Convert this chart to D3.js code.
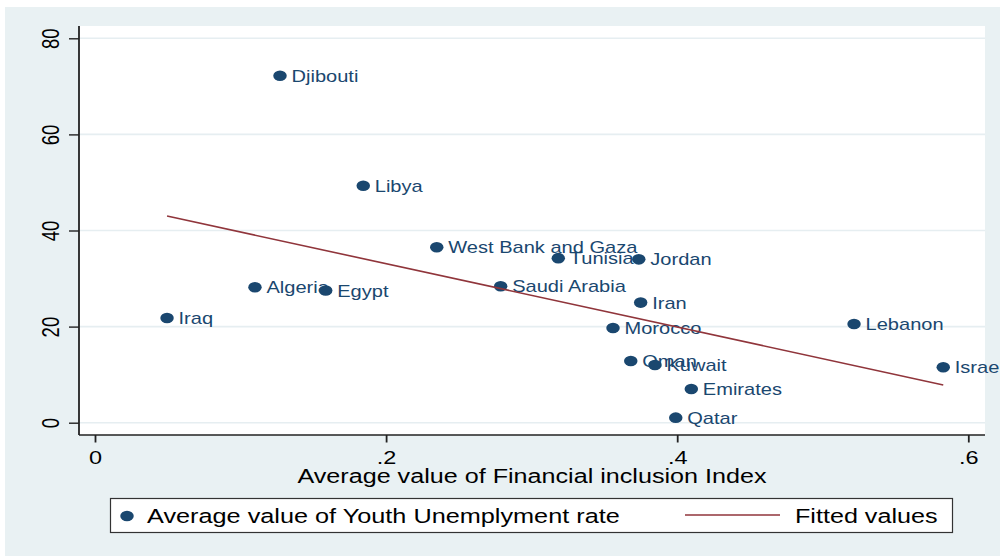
<!DOCTYPE html>
<html>
<head>
<meta charset="utf-8">
<script src="https://cdn.jsdelivr.net/npm/d3@7"></script>
<style>
  html, body { margin: 0; padding: 0; background: #ffffff; }
  svg { display: block; font-family: "Liberation Sans", Arial, sans-serif; }
</style>
</head>
<body>
<svg id="chart" width="1000" height="556"></svg>
<script>
// Countries, ordered by financial inclusion index
const countries = ["Iraq", "Algeria", "Djibouti", "Egypt", "Libya", "West Bank and Gaza",
  "Saudi Arabia", "Tunisia", "Morocco", "Oman", "Jordan", "Iran", "Kuwait", "Qatar",
  "Emirates", "Lebanon", "Israel"];
// Average value of Financial inclusion Index
const inclusion = [0.0495, 0.1099, 0.1271, 0.1585, 0.1843, 0.2348,
  0.2787, 0.3183, 0.3559, 0.3681, 0.3736, 0.3749, 0.3847, 0.3990,
  0.4097, 0.5215, 0.5828];
// Average value of Youth Unemployment rate
const unemployment = [21.8, 28.2, 72.2, 27.5, 49.3, 36.5,
  28.4, 34.25, 19.7, 12.85, 34.0, 25.0, 12.0, 1.05,
  7.0, 20.55, 11.55];

const yTicks = [0, 20, 40, 60, 80];
const xTicks = [0, 0.2, 0.4, 0.6];
const xTickLabels = ["0", ".2", ".4", ".6"];

const xTitle = "Average value of Financial inclusion Index";
const legendScatter = "Average value of Youth Unemplyment rate";
const legendFit = "Fitted values";

// The graph is drawn horizontally stretched: text and markers widen by this factor
const SX = 1.27;
const navy = "#1a476f";
const maroon = "#90353b";
const bg = "#e9f1f3";

const svg = d3.select("#chart");
const plot = { left: 79, right: 985, top: 26, bottom: 435 };

const x = d3.scaleLinear().domain([0, 0.6]).range([95, 968.3]);
const y = d3.scaleLinear().domain([0, 80]).range([422.7, 38.3]);

// Graph region and plot region
svg.append("rect").attr("x", 5).attr("y", 7).attr("width", 995).attr("height", 549).attr("fill", bg);
svg.append("rect").attr("x", plot.left).attr("y", plot.top)
  .attr("width", plot.right - plot.left).attr("height", plot.bottom - plot.top).attr("fill", "#ffffff");

// Horizontal grid lines
svg.append("g").selectAll("line").data(yTicks).join("line")
  .attr("x1", plot.left).attr("x2", plot.right)
  .attr("y1", d => y(d)).attr("y2", d => y(d))
  .attr("stroke", "#e6eef1").attr("stroke-width", 1.6);

// Y axis
const yAxis = svg.append("g").attr("transform", `translate(${plot.left},0)`)
  .call(d3.axisLeft(y).tickValues(yTicks).tickSize(10).tickSizeOuter(0).tickFormat(d3.format("d")));
yAxis.select(".domain").remove();
yAxis.selectAll(".tick line").attr("stroke", "#222").attr("stroke-width", 1.4);
yAxis.selectAll(".tick text")
  .attr("x", 0).attr("y", 0).attr("dy", null)
  .attr("transform", `translate(-20,0) scale(${SX},1) rotate(-90)`)
  .attr("text-anchor", "middle")
  .attr("font-size", 18.5).attr("fill", "#000")
  .attr("font-family", "Liberation Sans, Arial, sans-serif");
svg.append("line").attr("x1", plot.left).attr("x2", plot.left)
  .attr("y1", plot.top).attr("y2", plot.bottom)
  .attr("stroke", "#222").attr("stroke-width", 1.8);

// X axis
const xAxis = svg.append("g").attr("transform", `translate(0,${plot.bottom})`)
  .call(d3.axisBottom(x).tickValues(xTicks).tickSize(7.5).tickSizeOuter(0)
    .tickFormat((d, i) => xTickLabels[i]));
xAxis.select(".domain").remove();
xAxis.selectAll(".tick line").attr("stroke", "#222").attr("stroke-width", 1.8);
xAxis.selectAll(".tick text")
  .attr("x", 0).attr("y", 0).attr("dy", null)
  .attr("transform", `translate(0,29) scale(${SX},1)`)
  .attr("text-anchor", "middle")
  .attr("font-size", 18.5).attr("fill", "#000")
  .attr("font-family", "Liberation Sans, Arial, sans-serif");
svg.append("line").attr("x1", plot.left).attr("x2", plot.right)
  .attr("y1", plot.bottom).attr("y2", plot.bottom)
  .attr("stroke", "#222").attr("stroke-width", 1.4);

// Axis title
svg.append("text")
  .attr("transform", `translate(${(plot.left + plot.right) / 2},483) scale(${SX},1)`)
  .attr("text-anchor", "middle").attr("font-size", 19.8).attr("fill", "#000")
  .text(xTitle);

// Scatter markers with country labels
const pts = countries.map((c, i) => ({ name: c, xv: inclusion[i], yv: unemployment[i] }));
const R = 5.3;
const obs = svg.append("g").selectAll("g").data(pts).join("g");
obs.append("ellipse")
  .attr("cx", d => x(d.xv)).attr("cy", d => y(d.yv))
  .attr("rx", R * SX).attr("ry", R)
  .attr("fill", navy);
obs.append("text")
  .attr("transform", d => `translate(${x(d.xv) + 11.5},${y(d.yv) + 6}) scale(${SX},1)`)
  .attr("font-size", 15.8).attr("fill", navy)
  .text(d => d.name);

// Least-squares fitted line over the observed range
const mx = d3.mean(inclusion), my = d3.mean(unemployment);
const sxy = d3.sum(inclusion, (v, i) => (v - mx) * (unemployment[i] - my));
const sxx = d3.sum(inclusion, v => (v - mx) * (v - mx));
const slope = sxy / sxx, intercept = my - slope * mx;
const xr = d3.extent(inclusion);
const fit = xr.map(v => [v, intercept + slope * v]);
svg.append("path")
  .datum(fit)
  .attr("d", d3.line().x(d => x(d[0])).y(d => y(d[1])))
  .attr("fill", "none").attr("stroke", maroon).attr("stroke-width", 1.6);

// Legend
const lg = svg.append("g");
lg.append("rect").attr("x", 110.5).attr("y", 498.5).attr("width", 842).attr("height", 34)
  .attr("fill", "#ffffff").attr("stroke", "#333").attr("stroke-width", 1.2);
lg.append("ellipse").attr("cx", 127).attr("cy", 516).attr("rx", R * SX).attr("ry", R).attr("fill", navy);
lg.append("text")
  .attr("transform", `translate(147,523) scale(${SX},1)`)
  .attr("font-size", 19.9).attr("fill", "#000").text(legendScatter);
lg.append("line").attr("x1", 685).attr("x2", 780).attr("y1", 515).attr("y2", 515)
  .attr("stroke", maroon).attr("stroke-width", 1.6);
lg.append("text")
  .attr("transform", `translate(795,523) scale(${SX},1)`)
  .attr("font-size", 19.8).attr("fill", "#000").text(legendFit);
</script>
</body>
</html>
